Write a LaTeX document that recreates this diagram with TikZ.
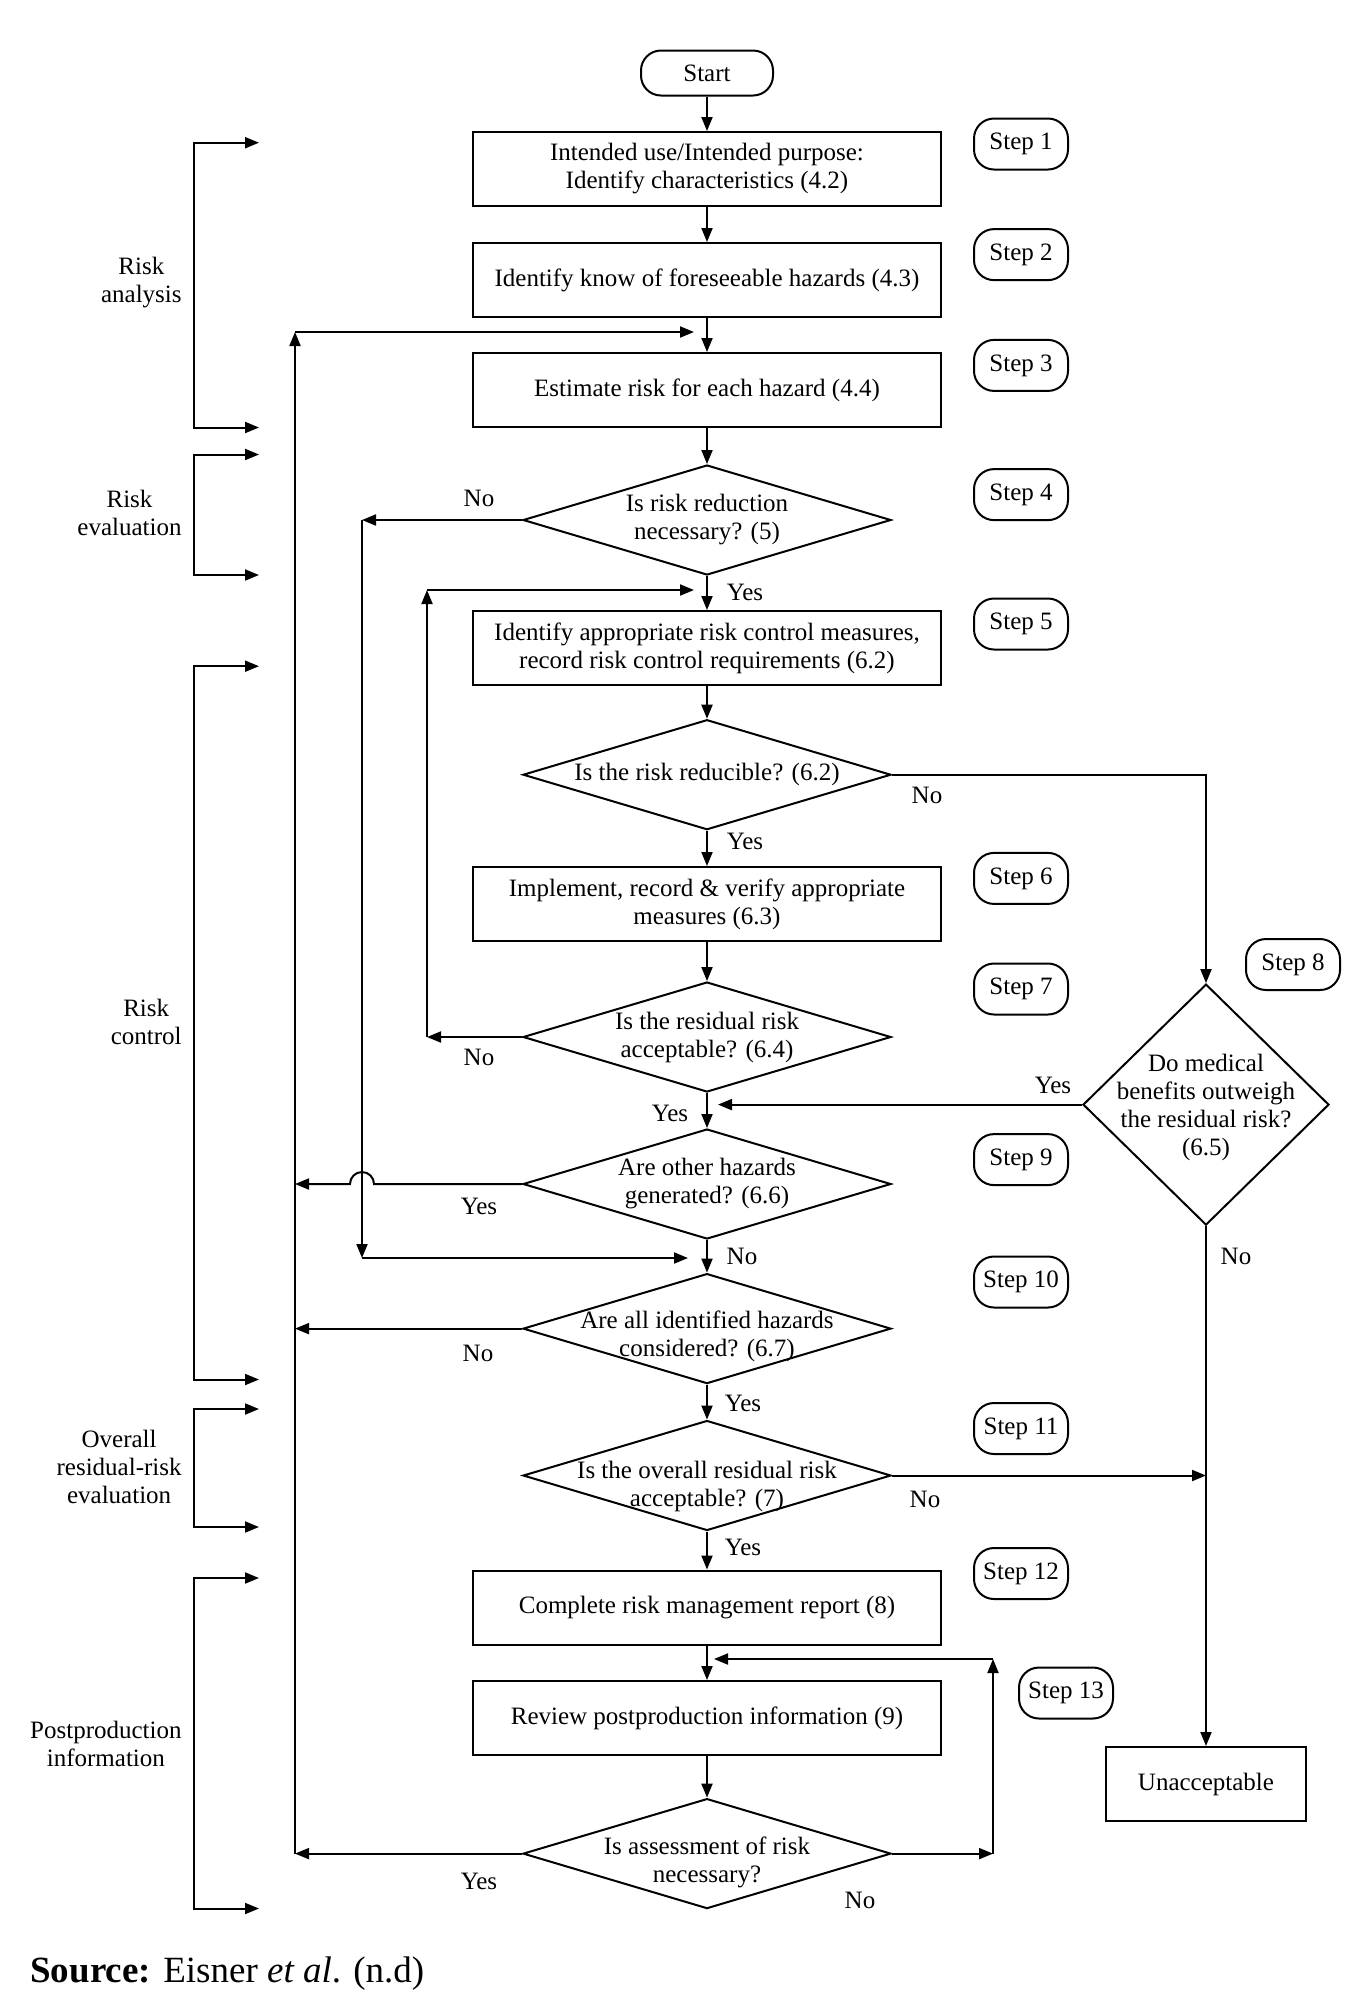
\documentclass[tikz,border=0pt]{standalone}
\usepackage{fontspec}
\setmainfont{Liberation Serif}
\usetikzlibrary{shapes.geometric,arrows.meta,positioning,calc}

\tikzset{
  txt/.style={font=\fontsize{12.5}{14}\selectfont},
  process/.style={txt,draw,line width=1pt,minimum width=234pt,minimum height=37pt,align=center,inner sep=2pt},
  startstop/.style={txt,draw,line width=1pt,rounded corners=10pt,minimum width=66pt,minimum height=22.5pt,inner sep=2pt},
  decision/.style={draw,diamond,line width=1pt,minimum width=184pt,minimum height=55pt,inner sep=0pt},
  dtext/.style={txt,align=center,inner sep=0pt},
  stepbox/.style={txt,draw,line width=1pt,rounded corners=10pt,minimum width=47pt,minimum height=25.5pt,inner sep=1pt},
  lbl/.style={txt,inner sep=0pt},
  arr/.style={line width=1pt,-{Triangle[length=7pt,width=5.5pt]}},
  phasebr/.style={line width=1pt,{Triangle[length=7pt,width=5.5pt]}-{Triangle[length=7pt,width=5.5pt]}},
}

\begin{document}
\begin{tikzpicture}[x=0.5pt,y=-0.5pt]
    \useasboundingbox (0,0) rectangle (1348,2010);
    % Main column
    \node[startstop] (start) at (707,73) {Start};
    \node[process] (b1) at (707,169) {Intended use/Intended purpose:\\Identify characteristics (4.2)};
    \node[process] (b2) at (707,280) {Identify know of foreseeable hazards (4.3)};
    \node[process] (b3) at (707,390) {Estimate risk for each hazard (4.4)};
    \node[decision] (d4) at (707,520) {};
    \node[dtext] (d4t) at (d4) {Is risk reduction\\necessary? (5)};
    \node[process] (b5) at (707,648) {Identify appropriate risk control measures,\\record risk control requirements (6.2)};
    \node[decision] (d6) at (707,774.7) {};
    \node[dtext] (d6t) at (d6) {Is the risk reducible? (6.2)};
    \node[process] (b6) at (707,904) {Implement, record \& verify appropriate\\measures (6.3)};
    \node[decision] (d7) at (707,1037) {};
    \node[dtext] (d7t) at (d7) {Is the residual risk\\acceptable? (6.4)};
    \node[decision] (d9) at (707,1184) {};
    \node[dtext] (d9t) at (d9) {Are other hazards\\generated? (6.6)};
    \node[decision] (d10) at (707,1328.6) {};
    \node[dtext] (d10t) at ($(d10)+(0,8)$) {Are all identified hazards\\considered? (6.7)};
    \node[decision] (d11) at (707,1475.5) {};
    \node[dtext] (d11t) at ($(d11)+(0,11)$) {Is the overall residual risk\\acceptable? (7)};
    \node[process] (b12) at (707,1607.5) {Complete risk management report (8)};
    \node[process] (b13) at (707,1718) {Review postproduction information (9)};
    \node[decision] (d13) at (707,1853.6) {};
    \node[dtext] (d13t) at ($(d13)+(0,9)$) {Is assessment of risk\\necessary?};
    % Right column
    \node[decision,minimum width=123pt,minimum height=120.5pt] (d8) at (1206,1104.6) {};
    \node[dtext] (d8t) at ($(d8)+(0,3)$) {Do medical\\benefits outweigh\\the residual risk?\\(6.5)};
    \node[process,minimum width=100pt] (unacc) at (1206,1784) {Unacceptable};

    % Step tags
    \foreach \n/\y in {1/144,2/254.6,3/365.4,4/494.6,5/624,6/878.4,7/989,9/1159.6,10/1282,11/1428.5,12/1573.5}
        \node[stepbox] (s\n) at (1021,\y) {Step \n};
    \node[stepbox] (s8) at (1293,964.5) {Step 8};
    \node[stepbox] (s13) at (1066,1693) {Step 13};

    % Main flow
    \draw[arr] (start) -- (b1);
    \draw[arr] (b1) -- (b2);
    \draw[arr] (b2) -- (b3);
    \draw[arr] (b3) -- (d4);
    \draw[arr] (d4) -- (b5);
    \draw[arr] (b5) -- (d6);
    \draw[arr] (d6) -- (b6);
    \draw[arr] (b6) -- (d7);
    \draw[arr] (d7) -- (d9);
    \draw[arr] (d9) -- (d10);
    \draw[arr] (d10) -- (d11);
    \draw[arr] (d11) -- (b12);
    \draw[arr] (b12) -- (b13);
    \draw[arr] (b13) -- (d13);

    % Unacceptable branch
    \draw[arr] (d6.east) -| (d8.north);
    \coordinate (c8) at (718,1104.6);
    \draw[arr] (d8.west) -- (c8);
    \draw[arr] (d8) -- (unacc);
    \draw[arr] (d11.east) -- (d11.east -| d8.south);

    % Loop back to step 3
    \coordinate (ca1) at (295,1853.6);
    \coordinate (ca2) at (295,332);
    \coordinate (ca3) at (694,332);
    \coordinate (ca9) at (295,1184);
    \coordinate (ca10) at (295,1328.6);
    \coordinate (hop) at (374,1184);
    \draw[arr] (d9.west) -- (hop) arc[start angle=0,end angle=180,radius=6pt] -- (ca9);
    \draw[arr] (d10.west) -- (ca10);
    \draw[arr] (d13.west) -- (ca1);
    \draw[arr] (ca1) -- (ca2);
    \draw[arr] (ca2) -- (ca3);

    % Skip to step 10
    \coordinate (cb1) at (362,520);
    \coordinate (cb2) at (362,1258);
    \coordinate (cb3) at (688,1258);
    \draw[arr] (d4.west) -- (cb1);
    \draw[arr] (cb1) -- (cb2);
    \draw[arr] (cb2) -- (cb3);

    % Loop back to step 5
    \coordinate (cc1) at (427,1037);
    \coordinate (cc2) at (427,590);
    \coordinate (cc3) at (694,590);
    \draw[arr] (d7.west) -- (cc1);
    \draw[arr] (cc1) -- (cc2);
    \draw[arr] (cc2) -- (cc3);

    % Loop back to step 13
    \coordinate (cd1) at (993,1853.6);
    \coordinate (cd2) at (993,1659);
    \coordinate (cd3) at (714,1659);
    \draw[arr] (d13.east) -- (cd1);
    \draw[arr] (cd1) -- (cd2);
    \draw[arr] (cd2) -- (cd3);

    % Yes / No labels
    \node[lbl] (d4no) at (479,498) {No};
    \node[lbl] (d4yes) at (745,592) {Yes};
    \node[lbl] (d6no) at (927,795) {No};
    \node[lbl] (d6yes) at (745,841) {Yes};
    \node[lbl] (d7no) at (479,1057) {No};
    \node[lbl] (d7yes) at (670,1113) {Yes};
    \node[lbl] (d8yes) at (1053,1085) {Yes};
    \node[lbl] (d8no) at (1236,1256) {No};
    \node[lbl] (d9yes) at (479,1206) {Yes};
    \node[lbl] (d9no) at (742,1256) {No};
    \node[lbl] (d10no) at (478,1353) {No};
    \node[lbl] (d10yes) at (743,1403) {Yes};
    \node[lbl] (d11no) at (925,1499) {No};
    \node[lbl] (d11yes) at (743,1547) {Yes};
    \node[lbl] (d13yes) at (479,1881) {Yes};
    \node[lbl] (d13no) at (860,1900) {No};

    % Phase brackets
    \foreach \t/\b in {142.7/427.5,454.5/575,666.2/1379.5,1409/1527,1578/1908.5}
        \draw[phasebr] (259,\t) -- (194,\t) -- (194,\b) -- (259,\b);
    \node[lbl,align=center,anchor=east] (ph1) at (182,282.5) {Risk\\analysis};
    \node[lbl,align=center,anchor=east] (ph2) at (182,512.5) {Risk\\evaluation};
    \node[lbl,align=center,anchor=east] (ph3) at (182,1022) {Risk\\control};
    \node[lbl,align=center,anchor=east] (ph4) at (182,1467) {Overall\\residual-risk\\evaluation};
    \node[lbl,align=center,anchor=east] (ph5) at (182,1744) {Postproduction\\information};

    % Source
    \node[anchor=base west,inner sep=0pt,font=\fontsize{18.5}{22}\selectfont] (src) at (30,1982) {\textbf{Source:} Eisner \textit{et al}. (n.d)};
\end{tikzpicture}
\end{document}
